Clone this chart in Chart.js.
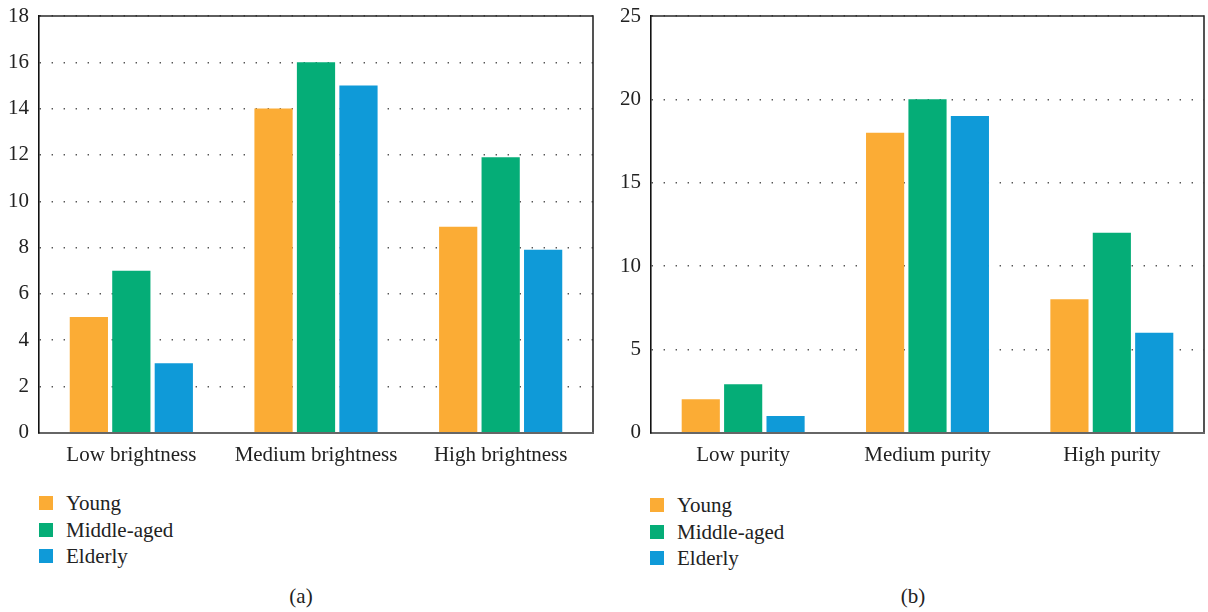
<!DOCTYPE html>
<html>
<head>
<meta charset="utf-8">
<script src="https://cdn.jsdelivr.net/npm/chart.js@4.4.1/dist/chart.umd.min.js"></script>
<style>
  html, body { margin: 0; padding: 0; background: #fff; }
  #wrap { position: relative; width: 1208px; height: 612px; overflow: hidden;
          font-family: "Liberation Serif", "DejaVu Serif", serif; color: #222; }
  canvas { position: absolute; top: 0; }
  #chartA { left: 0; }
  #chartB { left: 612px; }
  .legend { position: absolute; font-size: 21px; line-height: 26.5px; }
  .legend .item { display: flex; align-items: center; height: 26.5px; }
  .legend .sw { width: 14px; height: 14px; margin-right: 13px; flex: none; }
  .caption { position: absolute; top: 584px; font-size: 21px; width: 60px; text-align: center; }
</style>
</head>
<body>
<div id="wrap">
  <canvas id="chartA" width="600" height="480"></canvas>
  <canvas id="chartB" width="596" height="480"></canvas>
  <div class="legend" id="legendA" style="left:39px; top:490px;"></div>
  <div class="legend" id="legendB" style="left:650px; top:492px;"></div>
  <div class="caption" style="left:271px;">(a)</div>
  <div class="caption" style="left:883px;">(b)</div>
</div>
<script>
// Series shared by both panels
const seriesNames = ['Young', 'Middle-aged', 'Elderly'];
const seriesColors = ['#FBAC35', '#05AD77', '#0F9AD8'];

// Panel (a): brightness
const categoriesA = ['Low brightness', 'Medium brightness', 'High brightness'];
const youngA = [5, 14, 8.9];
const middleA = [7, 16, 11.9];
const elderlyA = [3, 15, 7.9];
const yMaxA = 18, yStepA = 2;

// Panel (b): purity
const categoriesB = ['Low purity', 'Medium purity', 'High purity'];
const youngB = [2, 18, 8];
const middleB = [2.9, 20, 12];
const elderlyB = [1, 19, 6];
const yMaxB = 25, yStepB = 5;

const FONT = { family: '"Liberation Serif", "DejaVu Serif", serif', size: 21 };

// Draws the top and right edges of the plot frame
const frame = {
  id: 'frame',
  afterDatasetsDraw(chart) {
    const { ctx, chartArea: a } = chart;
    ctx.save();
    ctx.strokeStyle = '#2a2a2a';
    ctx.lineWidth = 1.6;
    ctx.beginPath();
    ctx.moveTo(a.left, a.top);
    ctx.lineTo(a.right, a.top);
    ctx.lineTo(a.right, a.bottom);
    ctx.stroke();
    ctx.restore();
  }
};

function makeChart(id, labels, values, yMax, yStep, padRight) {
  return new Chart(document.getElementById(id), {
    type: 'bar',
    data: {
      labels: labels,
      datasets: values.map((v, i) => ({
        label: seriesNames[i],
        data: v,
        backgroundColor: seriesColors[i],
        borderWidth: 0,
        categoryPercentage: 0.69,
        barPercentage: 0.9
      }))
    },
    options: {
      responsive: false,
      animation: false,
      devicePixelRatio: 1,
      layout: { padding: { top: 16, right: padRight, left: 0, bottom: 0 } },
      plugins: { legend: { display: false }, tooltip: { enabled: false } },
      scales: {
        x: {
          grid: { display: false, drawTicks: false },
          border: { display: true, color: '#666', width: 2, z: 1 },
          ticks: { color: '#222', font: FONT, padding: 10, maxRotation: 0 },
          afterFit(s) { s.height = 47.3; s.paddingLeft = 0; s.paddingRight = 0; }
        },
        y: {
          min: 0, max: yMax,
          grid: { color: '#555', lineWidth: 1.4, drawTicks: false },
          border: { display: true, color: '#111', width: 1.6, dash: [1.4, 10.6], dashOffset: 0, z: 1 },
          ticks: { stepSize: yStep, color: '#222', font: FONT, padding: 10 },
          afterFit(s) { s.width = 39; s.paddingTop = 0; s.paddingBottom = 0; }
        }
      }
    },
    plugins: [frame]
  });
}

function buildLegend(chart, elId) {
  const el = document.getElementById(elId);
  chart.data.datasets.forEach(ds => {
    const item = document.createElement('div');
    item.className = 'item';
    const sw = document.createElement('span');
    sw.className = 'sw';
    sw.style.background = ds.backgroundColor;
    const tx = document.createElement('span');
    tx.textContent = ds.label;
    item.appendChild(sw);
    item.appendChild(tx);
    el.appendChild(item);
  });
}

const chartA = makeChart('chartA', categoriesA, [youngA, middleA, elderlyA], yMaxA, yStepA, 7);
const chartB = makeChart('chartB', categoriesB, [youngB, middleB, elderlyB], yMaxB, yStepB, 4);
buildLegend(chartA, 'legendA');
buildLegend(chartB, 'legendB');
</script>
</body>
</html>
